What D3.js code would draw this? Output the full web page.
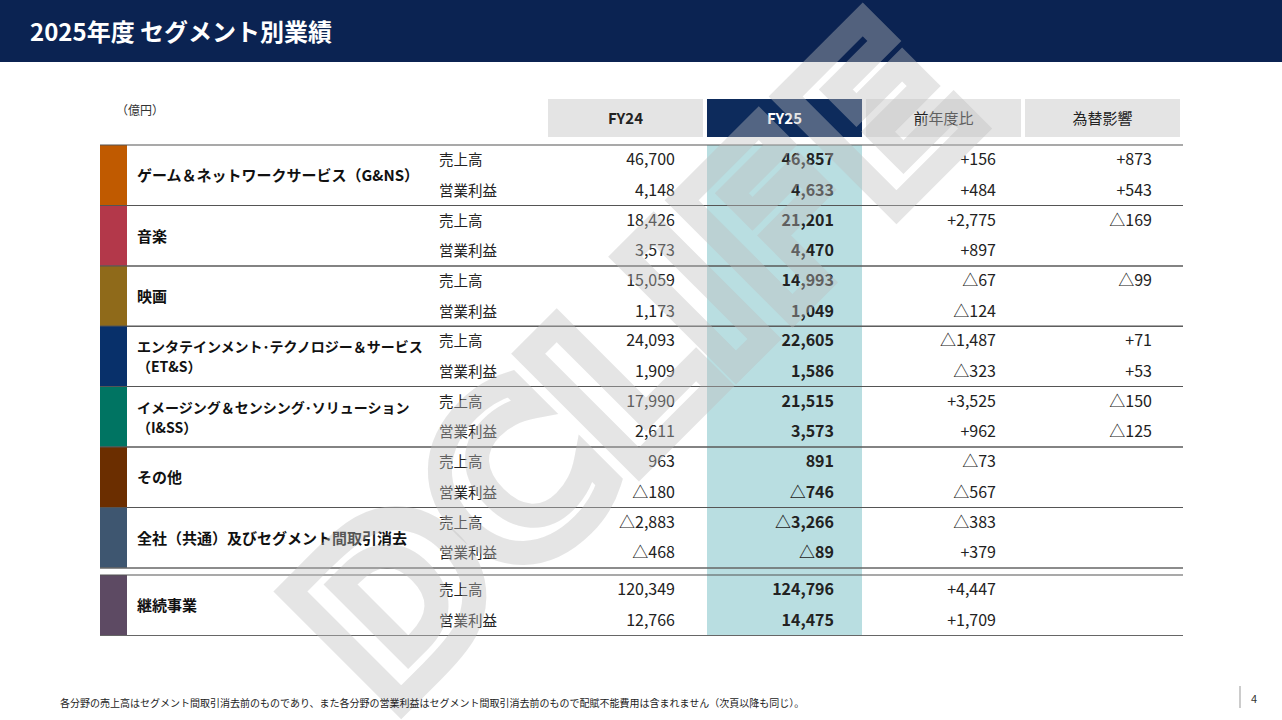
<!DOCTYPE html>
<html><head><meta charset="utf-8">
<script src="https://cdn.jsdelivr.net/npm/d3@7"></script>
<style>body{margin:0;background:#fff}svg{display:block;font-family:"Noto Sans CJK JP",sans-serif}</style>
</head><body><svg id="c" width="1282" height="720"></svg>
<script>
const segments=["ゲーム＆ネットワークサービス（G&NS）","音楽","映画","エンタテインメント･テクノロジー＆サービス\n（ET&S）","イメージング＆センシング･ソリューション\n（I&SS）","その他","全社（共通）及びセグメント間取引消去","継続事業"];
const segColors=["#c05a00","#b3384a","#8f6a1a","#08306a","#007462","#6b2e00","#3e5670","#5d4a63"];
const metrics=["売上高","営業利益"];
const columns=["FY24","FY25","前年度比","為替影響"];
const fy24=[["46,700","4,148"],["18,426","3,573"],["15,059","1,173"],["24,093","1,909"],["17,990","2,611"],["963","△180"],["△2,883","△468"],["120,349","12,766"]];
const fy25=[["46,857","4,633"],["21,201","4,470"],["14,993","1,049"],["22,605","1,586"],["21,515","3,573"],["891","△746"],["△3,266","△89"],["124,796","14,475"]];
const diff=[["+156","+484"],["+2,775","+897"],["△67","△124"],["△1,487","△323"],["+3,525","+962"],["△73","△567"],["△383","+379"],["+4,447","+1,709"]];
const fx=[["+873","+543"],["△169",""],["△99",""],["+71","+53"],["△150","△125"],["",""],["",""],["",""]];

const svg=d3.select("#c");
svg.append("rect").attr("width",1282).attr("height",62).attr("fill","#0b2352");
svg.append("text").attr("x",30).attr("y",41).attr("fill","#fff").attr("font-size",24).attr("font-weight","bold").text("2025年度 セグメント別業績");
svg.append("text").attr("x",116).attr("y",115).attr("font-size",12).attr("fill","#333").text("（億円）");

const colX=d3.scaleBand().domain(columns).range([548,1180]).paddingInner(0.025);
const rowTops=[145,205.5,266,326,386.5,447,507.5,575];
const rowH=60.5;
const colRight=[675,834,996,1152];

svg.append("rect").attr("x",colX("FY25")).attr("y",145).attr("width",colX.bandwidth()).attr("height",491).attr("fill","#b9dee1");
columns.forEach((c,i)=>{
  svg.append("rect").attr("x",colX(c)).attr("y",99).attr("width",colX.bandwidth()).attr("height",38).attr("fill",i==1?"#0d2b5c":"#e4e4e4");
  svg.append("text").attr("x",colX(c)+colX.bandwidth()/2).attr("y",124).attr("text-anchor","middle").attr("font-size",15)
    .attr("font-weight",i<2?"bold":"normal").attr("fill",i==1?"#fff":"#222").text(c);
});
segments.forEach((s,i)=>{
  const t=rowTops[i];
  svg.append("rect").attr("x",100).attr("y",t).attr("width",27).attr("height",rowH).attr("fill",segColors[i]);
  const lines=s.split("\n");
  lines.forEach((l,j)=>svg.append("text").attr("x",137).attr("y",t+rowH/2+6+(j-(lines.length-1)/2)*20).attr("font-size",lines.length>1?14:15).attr("font-weight","bold").attr("fill","#111").text(l));
  metrics.forEach((m,k)=>{
    const y=t+20+k*30.5;
    svg.append("text").attr("x",439).attr("y",y).attr("font-size",14.5).attr("fill","#222").text(m);
    [fy24,fy25,diff,fx].forEach((arr,c)=>{
      svg.append("text").attr("x",colRight[c]).attr("y",y).attr("text-anchor","end").attr("font-size",16).attr("font-weight",c==1?"bold":"normal").attr("fill","#222").text(arr[i][k]);
    });
  });
  svg.append("line").attr("x1",100).attr("x2",1183).attr("y1",t).attr("y2",t).attr("stroke","#555").attr("stroke-width",1.2);
  svg.append("line").attr("x1",100).attr("x2",1183).attr("y1",t+rowH).attr("y2",t+rowH).attr("stroke","#666").attr("stroke-width",1.2);
});
svg.append("line").attr("x1",100).attr("x2",1183).attr("y1",568).attr("y2",568).attr("stroke","#666").attr("stroke-width",1.2);

svg.append("text").attr("transform","translate(645,375) rotate(-45)").attr("text-anchor","middle").attr("dominant-baseline","middle")
  .attr("font-family","DejaVu Sans").attr("font-weight","bold").attr("font-size",215).attr("fill","none")
  .attr("stroke","#bdbdbd").attr("stroke-opacity",0.4).attr("stroke-width",24).text("DCLIFE");

svg.append("text").attr("x",60).attr("y",707).attr("font-size",10).attr("fill","#222").text("各分野の売上高はセグメント間取引消去前のものであり、また各分野の営業利益はセグメント間取引消去前のもので配賦不能費用は含まれません（次頁以降も同じ）。");
svg.append("line").attr("x1",1240).attr("x2",1240).attr("y1",686).attr("y2",708).attr("stroke","#999");
svg.append("text").attr("x",1251).attr("y",703).attr("font-size",11).attr("fill","#333").text("4");
</script></body></html>
